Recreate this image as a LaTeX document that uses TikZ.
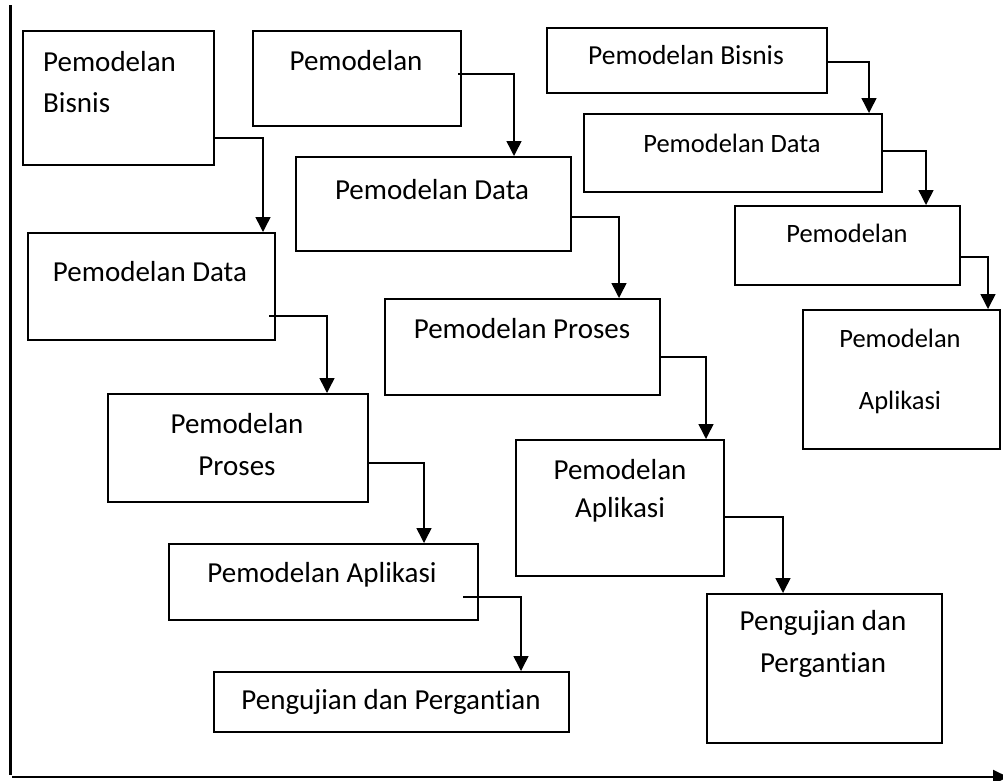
\documentclass[tikz,border=0pt]{standalone}
\usepackage{fontspec}
\setmainfont[Ligatures={NoCommon}]{Carlito}
\usetikzlibrary{arrows.meta,calc}
\begin{document}
\begin{tikzpicture}[x=1pt,y=-1pt,
  stagebox/.style={draw,line width=2.2pt,rectangle,anchor=north west,inner sep=0pt},
  lbl/.style={inner sep=0pt,font=\fontsize{29}{35}\selectfont},
  lblsm/.style={inner sep=0pt,font=\fontsize{26.5}{32}\selectfont},
  conn/.style={line width=1.5pt,-{Triangle[width=15pt,length=15pt]}},
  axis/.style={line width=2.2pt}]
\useasboundingbox (0,0) rectangle (1003,780);

% axes
\coordinate (ytop) at (10.5,5);
\coordinate (ybot) at (10.5,775);
\coordinate (xl) at (12,777);
\coordinate (xr) at (1008,777);
\draw[axis] (ytop) -- (ybot);
\begin{scope}
\clip (0,0) rectangle (1003,780);
\draw[axis,-{Triangle[width=14pt,length=15pt]}] (xl) -- (xr);
\end{scope}

% left sequence
\node[stagebox,minimum width=191pt,minimum height=134pt] (b1) at (22,30) {};
\node[stagebox,minimum width=247pt,minimum height=107pt] (d1) at (27,232) {};
\node[stagebox,minimum width=260pt,minimum height=108pt] (p1) at (107,393) {};
\node[stagebox,minimum width=309pt,minimum height=76pt] (a1) at (168,543) {};
\node[stagebox,minimum width=355pt,minimum height=60pt] (t1) at (213,671) {};
\node[lbl,anchor=west] (b1t1) at (43,62) {Pemodelan};
\node[lbl,anchor=west] (b1t2) at (43,103) {Bisnis};
\node[lbl] (d1t) at (150,272) {Pemodelan Data};
\node[lbl] (p1t1) at (237,424) {Pemodelan};
\node[lbl] (p1t2) at (237,466) {Proses};
\node[lbl] (a1t) at (322,575) {Pemodelan Aplikasi};
\node[lbl] (t1t) at (391,702) {Pengujian dan Pergantian};

% middle sequence
\node[stagebox,minimum width=208pt,minimum height=95pt] (b2) at (252,30) {};
\node[stagebox,minimum width=275pt,minimum height=94pt] (d2) at (295,156) {};
\node[stagebox,minimum width=275pt,minimum height=96pt] (p2) at (384,298) {};
\node[stagebox,minimum width=208pt,minimum height=136pt] (a2) at (515,439) {};
\node[stagebox,minimum width=235pt,minimum height=149pt] (t2) at (706,593) {};
\node[lbl] (b2t) at (356,61) {Pemodelan};
\node[lbl] (d2t) at (432,190) {Pemodelan Data};
\node[lbl] (p2t) at (522,329) {Pemodelan Proses};
\node[lbl] (a2t1) at (620,470) {Pemodelan};
\node[lbl] (a2t2) at (620,510) {Aplikasi};
\node[lbl] (t2t1) at (823,623) {Pengujian dan};
\node[lbl] (t2t2) at (823,665) {Pergantian};

% right sequence
\node[stagebox,minimum width=280pt,minimum height=65pt] (b3) at (546,27) {};
\node[stagebox,minimum width=298pt,minimum height=78pt] (d3) at (583,113) {};
\node[stagebox,minimum width=225pt,minimum height=79pt] (r3) at (734,205) {};
\node[stagebox,minimum width=197pt,minimum height=139pt] (a3) at (802,309) {};
\node[lblsm,font=\fontsize{27.5}{33}\selectfont] (b3t) at (686,55) {Pemodelan Bisnis};
\node[lblsm] (d3t) at (732,143) {Pemodelan Data};
\node[lblsm] (r3t) at (847,233) {Pemodelan};
\node[lblsm] (a3t1) at (900,338) {Pemodelan};
\node[lblsm] (a3t2) at (900,402) {Aplikasi};

% connectors (out of each box, down into the next)
\draw[conn] ($(b1.north east)+(0,108)$) -| ($(d1.north west)+(236,0)$);
\draw[conn] ($(d1.north east)+(-7,84)$) -| ($(p1.north west)+(220,0)$);
\draw[conn] ($(p1.north east)+(0,70)$) -| ($(a1.north west)+(256,0)$);
\draw[conn] ($(a1.north east)+(-16,54)$) -| ($(t1.north west)+(308,0)$);

\draw[conn] ($(b2.north east)+(-4,44)$) -| ($(d2.north west)+(219,0)$);
\draw[conn] ($(d2.north east)+(0,61)$) -| ($(p2.north west)+(235,0)$);
\draw[conn] ($(p2.north east)+(0,59)$) -| ($(a2.north west)+(191,0)$);
\draw[conn] ($(a2.north east)+(0,78)$) -| ($(t2.north west)+(77,0)$);

\draw[conn] ($(b3.north east)+(0,35)$) -| ($(d3.north west)+(286,0)$);
\draw[conn] ($(d3.north east)+(-2,38)$) -| ($(r3.north west)+(192,0)$);
\draw[conn] ($(r3.north east)+(0,52)$) -| ($(a3.north west)+(186,0)$);
\end{tikzpicture}
\end{document}
